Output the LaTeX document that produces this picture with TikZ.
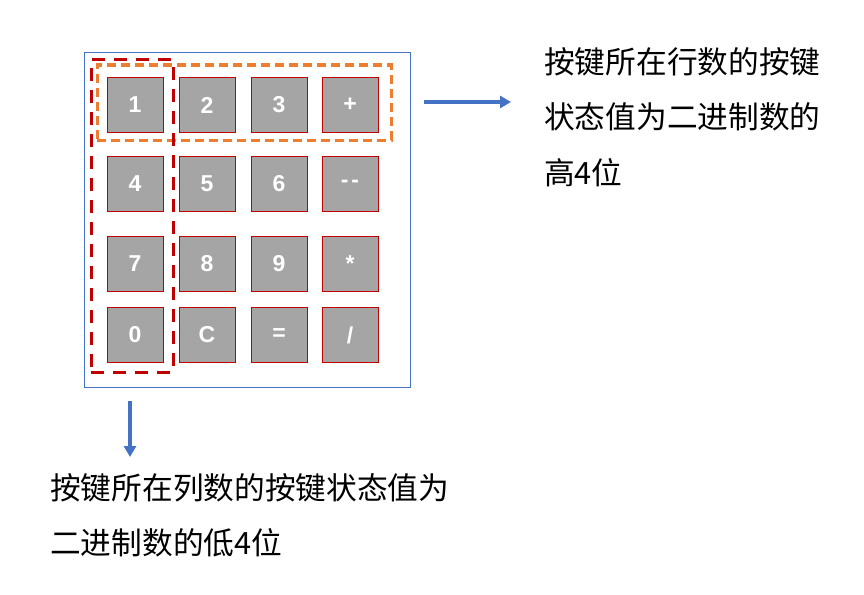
\documentclass[tikz,border=0pt]{standalone}
\usepackage{fontspec}
\setmainfont{Liberation Sans}
\newfontfamily\cjk{Noto Sans CJK SC}
\usetikzlibrary{arrows.meta}
\definecolor{keygray}{HTML}{A5A5A5}
\definecolor{keyred}{HTML}{C00000}
\definecolor{myblue}{HTML}{4472C4}
\definecolor{myorange}{HTML}{ED7D31}
\begin{document}
\begin{tikzpicture}[x=1pt,y=-1pt,
  keybox/.style={draw=keyred, line width=1pt, fill=keygray, minimum width=56pt, minimum height=55pt, inner sep=0pt, text=white, font=\fontsize{23}{23}\selectfont\bfseries},
  note/.style={anchor=west, inner sep=0pt, font=\cjk\fontsize{30.7}{30.7}\selectfont},
  arr/.style={draw=myblue, line width=3.5pt, -{Triangle[length=11pt,width=12pt]}}]
\useasboundingbox (0,0) rectangle (864,594);
\node[draw=myblue, line width=1pt, minimum width=326pt, minimum height=334pt, inner sep=0pt] (frame) at (247,220) {};
\node[keybox] (k1) at (135,105) {1};
\node[keybox] (k2) at (207,105) {2};
\node[keybox] (k3) at (279,105) {3};
\node[keybox] (kp) at (350,105) {+};
\node[keybox] (k4) at (135,184) {4};
\node[keybox] (k5) at (207,184) {5};
\node[keybox] (k6) at (279,184) {6};
\node[keybox] (km) at (350,184) {-\kern3pt-};
\node[keybox] (k7) at (135,264) {7};
\node[keybox] (k8) at (207,264) {8};
\node[keybox] (k9) at (279,264) {9};
\node[keybox] (kt) at (350,264) {*};
\node[keybox] (k0) at (135,335) {0};
\node[keybox] (kc) at (207,335) {C};
\node[keybox] (ke) at (279,335) {=};
\node[keybox] (kd) at (350,335) {/};
\node[draw=myorange, line width=3pt, dash pattern=on 9pt off 5pt, minimum width=294pt, minimum height=75pt, inner sep=0pt] (rowbox) at (244,102.5) {};
\node[draw=keyred, line width=3pt, dash pattern=on 13pt off 9pt, minimum width=82pt, minimum height=312pt, inner sep=0pt] (colbox) at (132.3,216) {};
\coordinate (ra1) at (424,102);
\coordinate (ra2) at (511,102);
\coordinate (da1) at (130,401);
\coordinate (da2) at (130,457);
\draw[arr] (ra1) -- (ra2);
\draw[arr] (da1) -- (da2);
\node[note] (t1) at (544,62) {按键所在行数的按键};
\node[note] (t2) at (544,117) {状态值为二进制数的};
\node[note] (t3) at (544,173) {高4位};
\node[note] (b1) at (50,488) {按键所在列数的按键状态值为};
\node[note] (b2) at (50,543) {二进制数的低4位};
\end{tikzpicture}
\end{document}
